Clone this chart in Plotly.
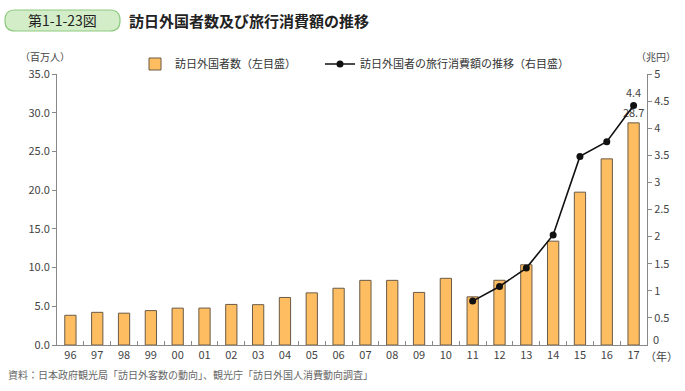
import plotly.graph_objects as go

years = ["96", "97", "98", "99", "00", "01", "02", "03", "04", "05", "06",
         "07", "08", "09", "10", "11", "12", "13", "14", "15", "16", "17"]
visitors = [3.84, 4.22, 4.11, 4.44, 4.76, 4.77, 5.24, 5.21, 6.14, 6.73, 7.33,
            8.35, 8.35, 6.79, 8.61, 6.22, 8.36, 10.36, 13.41, 19.74, 24.04, 28.69]
spend_years = ["11", "12", "13", "14", "15", "16", "17"]
spending = [0.81, 1.08, 1.42, 2.03, 3.48, 3.75, 4.42]
right_ticks = [0.5, 1, 1.5, 2, 2.5, 3, 3.5, 4, 4.5, 5]

FONT = "Noto Sans CJK JP"
GRAY = "#444444"

bar_text = [""] * (len(visitors) - 1) + [f"{visitors[-1]:.1f}"]
line_text = [""] * (len(spending) - 1) + [f"{spending[-1]:.1f}"]

L, R, T, B = 57, 38, 74, 46
W, H = 685, 391
pw, ph = W - L - R, H - T - B
def px(x):
    return (x - L) / pw
def py(y):
    return (H - B - y) / ph

fig = go.Figure()
fig.add_trace(go.Bar(
    x=years, y=visitors, name="訪日外国者数（左目盛）",
    marker=dict(color="#FFBD62", line=dict(color="#6b5a45", width=1)),
    width=0.42, text=bar_text, textposition="outside", cliponaxis=False,
    constraintext="none", textangle=0,
    textfont=dict(size=11, color=GRAY, family=FONT),
    legend="legend",
))
fig.add_trace(go.Scatter(
    x=spend_years, y=spending, name="訪日外国者の旅行消費額の推移（右目盛）",
    mode="lines+markers+text", yaxis="y2",
    line=dict(color="#111111", width=1.6),
    marker=dict(color="#111111", size=7),
    text=line_text, textposition="top center", cliponaxis=False,
    textfont=dict(size=11, color=GRAY, family=FONT),
    legend="legend2",
))

leg_common = dict(orientation="h", yanchor="middle", xanchor="left",
                  font=dict(size=11, color="#333333", family=FONT),
                  itemwidth=30, bgcolor="rgba(0,0,0,0)", borderwidth=0)

fig.update_layout(
    width=W, height=H,
    margin=dict(l=L, r=R, t=T, b=B, autoexpand=False),
    paper_bgcolor="white", plot_bgcolor="white",
    font=dict(family=FONT, size=11, color=GRAY),
    showlegend=True,
    legend=dict(x=px(135), y=py(64), **leg_common),
    legend2=dict(x=px(320), y=py(64), **leg_common),
    xaxis=dict(type="category", range=[-0.5, 21.5], showline=True, linecolor="#888888",
               linewidth=1, ticks="inside", tickson="boundaries", ticklen=4,
               tickcolor="#888888", showgrid=False, tickfont=dict(size=11, color=GRAY)),
    yaxis=dict(range=[0, 35], dtick=5, tickformat=".1f", showline=True,
               linecolor="#888888", linewidth=1, ticks="outside", ticklen=4,
               tickcolor="#888888", showgrid=False, zeroline=False,
               tickfont=dict(size=11, color=GRAY)),
    yaxis2=dict(range=[0, 5], tickvals=right_ticks, overlaying="y", side="right", showline=True,
                linecolor="#888888", linewidth=1, ticks="outside", ticklen=4,
                tickcolor="#888888", showgrid=False, zeroline=False,
                tickfont=dict(size=11, color=GRAY)),
)

# Title badge (rounded rectangle)
x0, x1, y0, y1, r = 5, 120, 10, 31, 10
pts = [("M", x0 + r, y0), ("L", x1 - r, y0), ("Q", x1, y0, x1, y0 + r), ("L", x1, y1 - r),
       ("Q", x1, y1, x1 - r, y1), ("L", x0 + r, y1), ("Q", x0, y1, x0, y1 - r),
       ("L", x0, y0 + r), ("Q", x0, y0, x0 + r, y0)]
segs = []
for p in pts:
    cmd, coords = p[0], p[1:]
    pairs = [f"{px(coords[i]):.5f},{py(coords[i+1]):.5f}" for i in range(0, len(coords), 2)]
    segs.append(cmd + " " + " ".join(pairs))
path = " ".join(segs) + " Z"
fig.add_shape(type="path", path=path, xref="paper", yref="paper",
              fillcolor="#d3edc9", line=dict(color="#8fca80", width=1.2), layer="below")

def ann(text, x, y, size=11, color=GRAY, xanchor="left", bold=False):
    fig.add_annotation(text=f"<b>{text}</b>" if bold else text, x=px(x), y=py(y),
                       xref="paper", yref="paper", showarrow=False, xanchor=xanchor,
                       yanchor="middle", font=dict(size=size, color=color, family=FONT))

ann("第1-1-23図", 62, 20.5, size=14, color="#222222", xanchor="center")
ann("訪日外国者数及び旅行消費額の推移", 127, 20.5, size=15, color="#222222", bold=True)
ann("（百万人）", 18, 57, size=10)
ann("（兆円）", 634, 57, size=10)
ann("0", 651, 339, size=11)
ann("（年）", 643, 356, size=11)
ann("資料：日本政府観光局「訪日外客数の動向」、観光庁「訪日外国人消費動向調査」", 6, 374, size=10, color="#666666")

fig.write_html("out.html", config={"displayModeBar": False},
               post_script="document.body.style.margin='0';document.body.style.overflow='hidden';")
